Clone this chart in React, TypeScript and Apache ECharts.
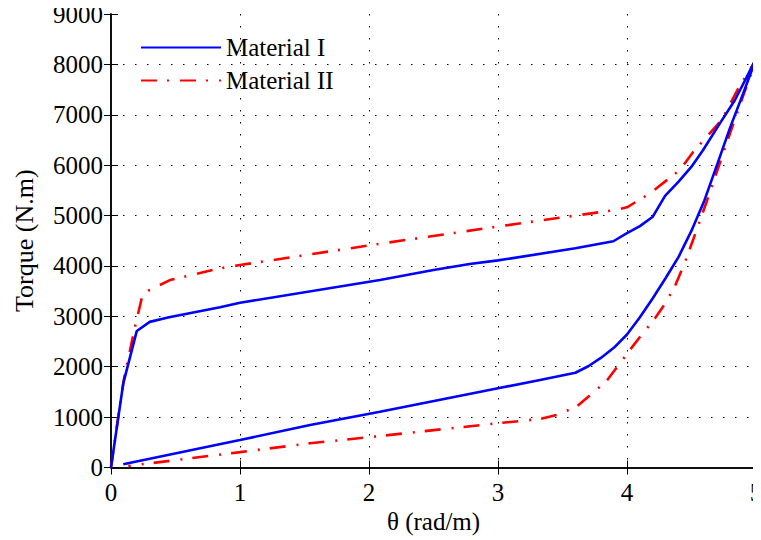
import React, { useEffect, useRef } from "react";
import * as echarts from "echarts";

const seriesNames = ["Material I", "Material II"];

// Material I: loading branch then unloading branch [theta, torque]
const materialI: number[][] = [
  [0, 0], [0.095, 1670], [0.2, 2710], [0.3, 2890], [0.45, 2980], [0.845, 3180],
  [1, 3270], [2.085, 3720], [2.5, 3920], [2.78, 4040], [3.0, 4110], [3.6, 4350],
  [3.894, 4490], [4.0, 4650], [4.1, 4790], [4.2, 4977], [4.295, 5390], [4.4, 5672],
  [4.5, 5970], [4.59, 6300], [4.72, 6830], [4.837, 7293], [5.0, 8110],
  [4.9, 7420], [4.8, 6750], [4.7, 6020], [4.6, 5300], [4.5, 4700], [4.4, 4180],
  [4.3, 3760], [4.2, 3360], [4.1, 2980], [4.0, 2640], [3.9, 2380], [3.8, 2180],
  [3.7, 2010], [3.6, 1880], [3.326, 1736], [3.0, 1572], [2.085, 1108],
  [1.543, 843], [1, 546], [0.095, 64],
];

// Material II: loading branch then unloading branch [theta, torque]
const materialII: number[][] = [
  [0, 0], [0.05, 900], [0.1, 1750], [0.186, 2794], [0.238, 3357], [0.289, 3508],
  [0.457, 3720], [0.845, 3952], [1, 4018], [2.085, 4440], [2.99, 4779],
  [3.907, 5110], [4.0, 5163], [4.178, 5441], [4.41, 5904], [4.514, 6267],
  [4.734, 6896], [4.863, 7525], [5.0, 8087],
  [4.876, 7200], [4.747, 6250], [4.618, 5280], [4.514, 4530], [4.45, 4080],
  [4.372, 3600], [4.3, 3270], [4.217, 2960], [4.1, 2590], [4.01, 2290],
  [3.843, 1720], [3.61, 1207], [3.455, 1042], [3.326, 962], [2.99, 877],
  [2.085, 625], [1.543, 480], [1, 305], [0.134, 30],
];

const xTicks = { min: 0, max: 5, interval: 1 };
const yTicks = { min: 0, max: 9000, interval: 1000 };
const xTitle = "θ (rad/m)";
const yTitle = "Torque (N.m)";

const FONT = "Liberation Serif";

export default function App() {
  const ref = useRef<HTMLDivElement>(null);
  useEffect(() => {
    if (!ref.current) return;
    const chart = echarts.init(ref.current, null, { renderer: "svg" });
    const mkLine = () => ({ show: true, lineStyle: { color: "#000", width: 1.5 } });
    const mkTick = () => ({ show: true, inside: true, length: 7, lineStyle: { color: "#000", width: 1 } });
    const mkSplit = () => ({
      show: true,
      showMinLine: false,
      showMaxLine: false,
      lineStyle: { color: "#000", width: 1, type: [1.5, 10.5] },
    });
    const mkLabel = (margin: number) => ({
      show: true,
      fontFamily: FONT,
      fontSize: 25,
      color: "#000",
      margin,
      formatter: (v: number) => String(v),
    });
    chart.setOption({
      animation: false,
      backgroundColor: "#fff",
      textStyle: { fontFamily: FONT, fontSize: 25, color: "#000" },
      grid: { left: 111, right: 5, top: 14, bottom: 72.5, containLabel: false, outerBoundsMode: "none" },
      legend: {
        orient: "vertical",
        left: 140,
        top: 35,
        padding: 0,
        itemWidth: 80,
        itemHeight: 14,
        itemGap: 8,
        itemStyle: { opacity: 0 },
        textStyle: { fontFamily: FONT, fontSize: 25, color: "#000", lineHeight: 25 },
        data: seriesNames,
      },
      xAxis: [
        {
          type: "value",
          ...xTicks,
          position: "bottom",
          name: xTitle,
          nameLocation: "middle",
          nameGap: 40,
          nameTextStyle: { fontFamily: FONT, fontSize: 25, color: "#000" },
          axisLine: mkLine(),
          axisTick: mkTick(),
          axisLabel: mkLabel(12),
          splitLine: mkSplit(),
        },
        {
          type: "value",
          ...xTicks,
          position: "top",
          axisLine: mkLine(),
          axisTick: mkTick(),
          axisLabel: { show: false },
          splitLine: { show: false },
        },
      ],
      yAxis: [
        {
          type: "value",
          ...yTicks,
          position: "left",
          name: yTitle,
          nameLocation: "middle",
          nameGap: 74,
          nameTextStyle: { fontFamily: FONT, fontSize: 26, color: "#000" },
          axisLine: mkLine(),
          axisTick: mkTick(),
          axisLabel: mkLabel(8),
          splitLine: mkSplit(),
        },
        {
          type: "value",
          ...yTicks,
          position: "right",
          axisLine: mkLine(),
          axisTick: mkTick(),
          axisLabel: { show: false },
          splitLine: { show: false },
        },
      ],
      series: [
        {
          name: seriesNames[0],
          type: "line",
          data: materialI,
          symbol: "none",
          smooth: false,
          lineStyle: { color: "#0000ff", width: 2.6 },
          itemStyle: { color: "#0000ff" },
          z: 3,
        },
        {
          name: seriesNames[1],
          type: "line",
          data: materialII,
          symbol: "none",
          smooth: false,
          lineStyle: { color: "#ff0000", width: 2.6, type: [16, 10, 2, 11] },
          itemStyle: { color: "#ff0000" },
          z: 2,
        },
      ],
    });
    return () => chart.dispose();
  }, []);
  return <div ref={ref} style={{ width: 761, height: 540, marginLeft: -8, marginTop: -8 }} />;
}
